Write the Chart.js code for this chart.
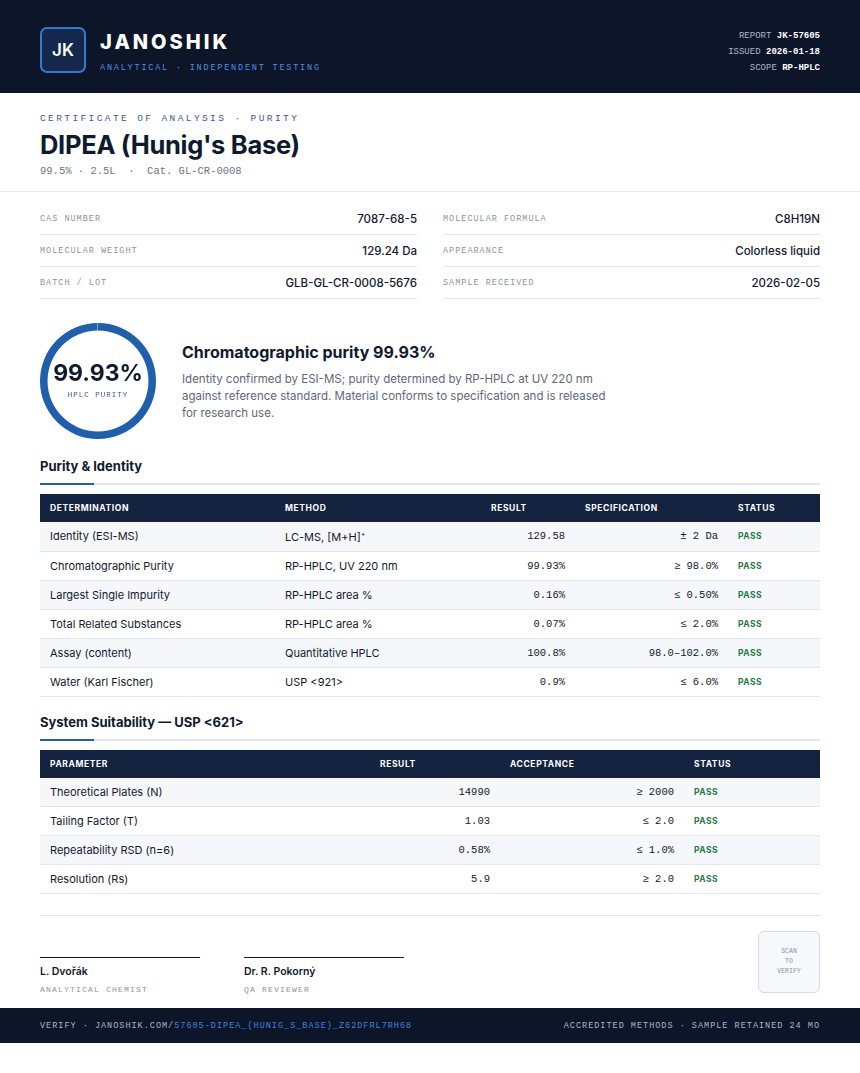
<!DOCTYPE html>
<html><head><meta charset="utf-8">
<script src="https://cdn.jsdelivr.net/npm/chart.js@4"></script>
<style>
*{box-sizing:border-box;margin:0;padding:0}
body{width:860px;font-family:Inter,"Noto Sans",sans-serif;color:#0f1a2e;background:#fff}
.mono{font-family:"Liberation Mono","DejaVu Sans Mono",monospace}
.hdr{background:#0c1628;height:93px;position:relative;color:#fff}
.logo{position:absolute;left:40px;top:27px;width:46px;height:46px;border:2px solid #3a78d0;border-radius:7px;background:#13284a;display:flex;align-items:center;justify-content:center;font-weight:600;font-size:17px}
.brand{position:absolute;left:100px;top:30px;font-size:20px;font-weight:800;letter-spacing:3px}
.tag{position:absolute;left:100px;top:63px;font-size:8.5px;letter-spacing:1.8px;color:#4f8fe6}
.meta{position:absolute;right:40px;top:28px;text-align:right;font-size:9px;line-height:16px;color:#aab6cc}
.meta b{color:#fff}
.top{padding:20px 40px 0;height:99px;border-bottom:1px solid #e2e7ef}
.coa{font-size:9.5px;letter-spacing:2.4px;color:#3b5b8c}
h1{font-size:25.5px;font-weight:700;margin-top:5px;letter-spacing:-.3px}
.sub{font-size:10.5px;color:#6b7588;margin-top:5px}
.grid{display:grid;grid-template-columns:377px 377px;column-gap:26px;padding:11px 40px 0}
.kv{display:flex;justify-content:space-between;align-items:center;height:32px;border-bottom:1px solid #e2e7ef}
.kv span{font-size:8.5px;letter-spacing:1px;color:#8a93a3}
.kv b{font-size:11.5px;font-weight:500}
.sum{position:relative;height:157px}
#ringwrap{position:absolute;left:40px;top:24px;width:116px;height:116px}
.rc{position:absolute;left:40px;top:24px;width:116px;height:116px;display:flex;flex-direction:column;align-items:center;justify-content:center;pointer-events:none}
.rc b{font-size:23px;font-weight:700;margin-top:-4px}
.rc span{font-size:7.5px;letter-spacing:1px;color:#3b5b8c;margin-top:4px}
.stx{position:absolute;left:182px;top:43px;width:440px}
.stx h2{font-size:16px;font-weight:700}
.stx p{font-size:11.5px;line-height:17px;color:#5d6778;margin-top:9px}
.sec{margin:0 40px;font-size:13px;font-weight:700;height:29px;padding-top:2px;position:relative;border-bottom:2px solid #e2e7ef}
.sec:after{content:"";position:absolute;left:0;bottom:-2px;width:54px;height:2px;background:#1f5fae}
table{margin:9px 40px 0;width:780px;border-collapse:collapse;table-layout:fixed}
th{background:#14233f;color:#fff;font-size:8.5px;font-weight:700;letter-spacing:.6px;text-align:left;height:28px;padding:0 10px}
td{font-size:11px;height:29px;padding:0 10px;border-bottom:1px solid #e2e7ef}
tr:nth-child(even) td{background:#f5f7fb}
td.r{text-align:right}
td.m{font-family:"Liberation Mono","DejaVu Sans Mono",monospace;font-size:10.5px}
td.p{font-size:8.5px;font-weight:700;color:#1f7a45;letter-spacing:.5px}
.sig{position:relative;height:93px;margin:21px 40px 0;border-top:1px solid #e2e7ef}
.s{position:absolute;top:41px;width:160px;border-top:1.5px solid #0f1a2e;padding-top:7px}
.s b{font-size:10.5px;font-weight:600;display:block}
.s span{font-size:8px;letter-spacing:1.2px;color:#8a93a3;display:block;margin-top:7px}
.qr{position:absolute;right:0;top:15px;width:62px;height:62px;border:1px solid #d5dbe6;border-radius:6px;background:#f6f8fb;font-size:6.5px;color:#8a93a3;text-align:center;display:flex;align-items:center;justify-content:center;line-height:10px}
.ftr{background:#0c1628;height:35px;display:flex;justify-content:space-between;align-items:center;padding:0 40px;font-size:8.5px;letter-spacing:1px;color:#aab6cc}
.ftr i{font-style:normal;color:#3f82e0}
</style></head><body>
<div class="hdr">
 <div class="logo">JK</div>
 <div class="brand">JANOSHIK</div>
 <div class="tag mono">ANALYTICAL · INDEPENDENT TESTING</div>
 <div class="meta mono">REPORT <b>JK-57605</b><br>ISSUED <b>2026-01-18</b><br>SCOPE <b>RP-HPLC</b></div>
</div>
<div class="top">
 <div class="coa mono">CERTIFICATE OF ANALYSIS · PURITY</div>
 <h1>DIPEA (Hunig's Base)</h1>
 <div class="sub mono">99.5% · 2.5L &nbsp;· &nbsp;Cat. GL-CR-0008</div>
</div>
<div class="grid">
 <div class="kv"><span class="mono">CAS NUMBER</span><b>7087-68-5</b></div>
 <div class="kv"><span class="mono">MOLECULAR FORMULA</span><b>C8H19N</b></div>
 <div class="kv"><span class="mono">MOLECULAR WEIGHT</span><b>129.24 Da</b></div>
 <div class="kv"><span class="mono">APPEARANCE</span><b>Colorless liquid</b></div>
 <div class="kv"><span class="mono">BATCH / LOT</span><b>GLB-GL-CR-0008-5676</b></div>
 <div class="kv"><span class="mono">SAMPLE RECEIVED</span><b>2026-02-05</b></div>
</div>
<div class="sum">
 <div id="ringwrap"><canvas id="ring" width="116" height="116"></canvas></div>
 <div class="rc"><b>99.93%</b><span class="mono">HPLC PURITY</span></div>
 <div class="stx"><h2>Chromatographic purity 99.93%</h2>
 <p>Identity confirmed by ESI-MS; purity determined by RP-HPLC at UV 220 nm against reference standard. Material conforms to specification and is released for research use.</p></div>
</div>
<div class="sec">Purity &amp; Identity</div>
<table>
<tr><th style="width:235px">DETERMINATION</th><th style="width:206px">METHOD</th><th style="width:94px">RESULT</th><th style="width:153px">SPECIFICATION</th><th>STATUS</th></tr>
<tr><td>Identity (ESI-MS)</td><td>LC-MS, [M+H]<sup style="font-size:7px">+</sup></td><td class="r m">129.58</td><td class="r m">± 2 Da</td><td class="p">PASS</td></tr>
<tr><td>Chromatographic Purity</td><td>RP-HPLC, UV 220 nm</td><td class="r m">99.93%</td><td class="r m">≥ 98.0%</td><td class="p">PASS</td></tr>
<tr><td>Largest Single Impurity</td><td>RP-HPLC area %</td><td class="r m">0.16%</td><td class="r m">≤ 0.50%</td><td class="p">PASS</td></tr>
<tr><td>Total Related Substances</td><td>RP-HPLC area %</td><td class="r m">0.07%</td><td class="r m">≤ 2.0%</td><td class="p">PASS</td></tr>
<tr><td>Assay (content)</td><td>Quantitative HPLC</td><td class="r m">100.8%</td><td class="r m">98.0–102.0%</td><td class="p">PASS</td></tr>
<tr><td>Water (Karl Fischer)</td><td>USP &lt;921&gt;</td><td class="r m">0.9%</td><td class="r m">≤ 6.0%</td><td class="p">PASS</td></tr>
</table>
<div class="sec" style="margin-top:15px">System Suitability — USP &lt;621&gt;</div>
<table>
<tr><th style="width:330px">PARAMETER</th><th style="width:130px">RESULT</th><th style="width:184px">ACCEPTANCE</th><th>STATUS</th></tr>
<tr><td>Theoretical Plates (N)</td><td class="r m">14990</td><td class="r m">≥ 2000</td><td class="p">PASS</td></tr>
<tr><td>Tailing Factor (T)</td><td class="r m">1.03</td><td class="r m">≤ 2.0</td><td class="p">PASS</td></tr>
<tr><td>Repeatability RSD (n=6)</td><td class="r m">0.58%</td><td class="r m">≤ 1.0%</td><td class="p">PASS</td></tr>
<tr><td>Resolution (Rs)</td><td class="r m">5.9</td><td class="r m">≥ 2.0</td><td class="p">PASS</td></tr>
</table>
<div class="sig">
 <div class="s" style="left:0"><b>L. Dvořák</b><span class="mono">ANALYTICAL CHEMIST</span></div>
 <div class="s" style="left:204px"><b>Dr. R. Pokorný</b><span class="mono">QA REVIEWER</span></div>
 <div class="qr mono">SCAN<br>TO<br>VERIFY</div>
</div>
<div class="ftr mono"><span>VERIFY · JANOSHIK.COM/<i>57605-DIPEA_(HUNIG_S_BASE)_Z62DFRL7RH68</i></span><span>ACCREDITED METHODS · SAMPLE RETAINED 24 MO</span></div>
<script>
const ringLabels=["Purity","Other"];
const ringValues=[99.93,0.07];
new Chart(document.getElementById("ring"),{type:"doughnut",
 data:{labels:ringLabels,datasets:[{data:ringValues,backgroundColor:["#1f5fae","#e2e7ef"],borderWidth:0}]},
 options:{responsive:false,animation:false,cutout:"87%",plugins:{legend:{display:false},tooltip:{enabled:false}}}});
</script>
</body></html>
